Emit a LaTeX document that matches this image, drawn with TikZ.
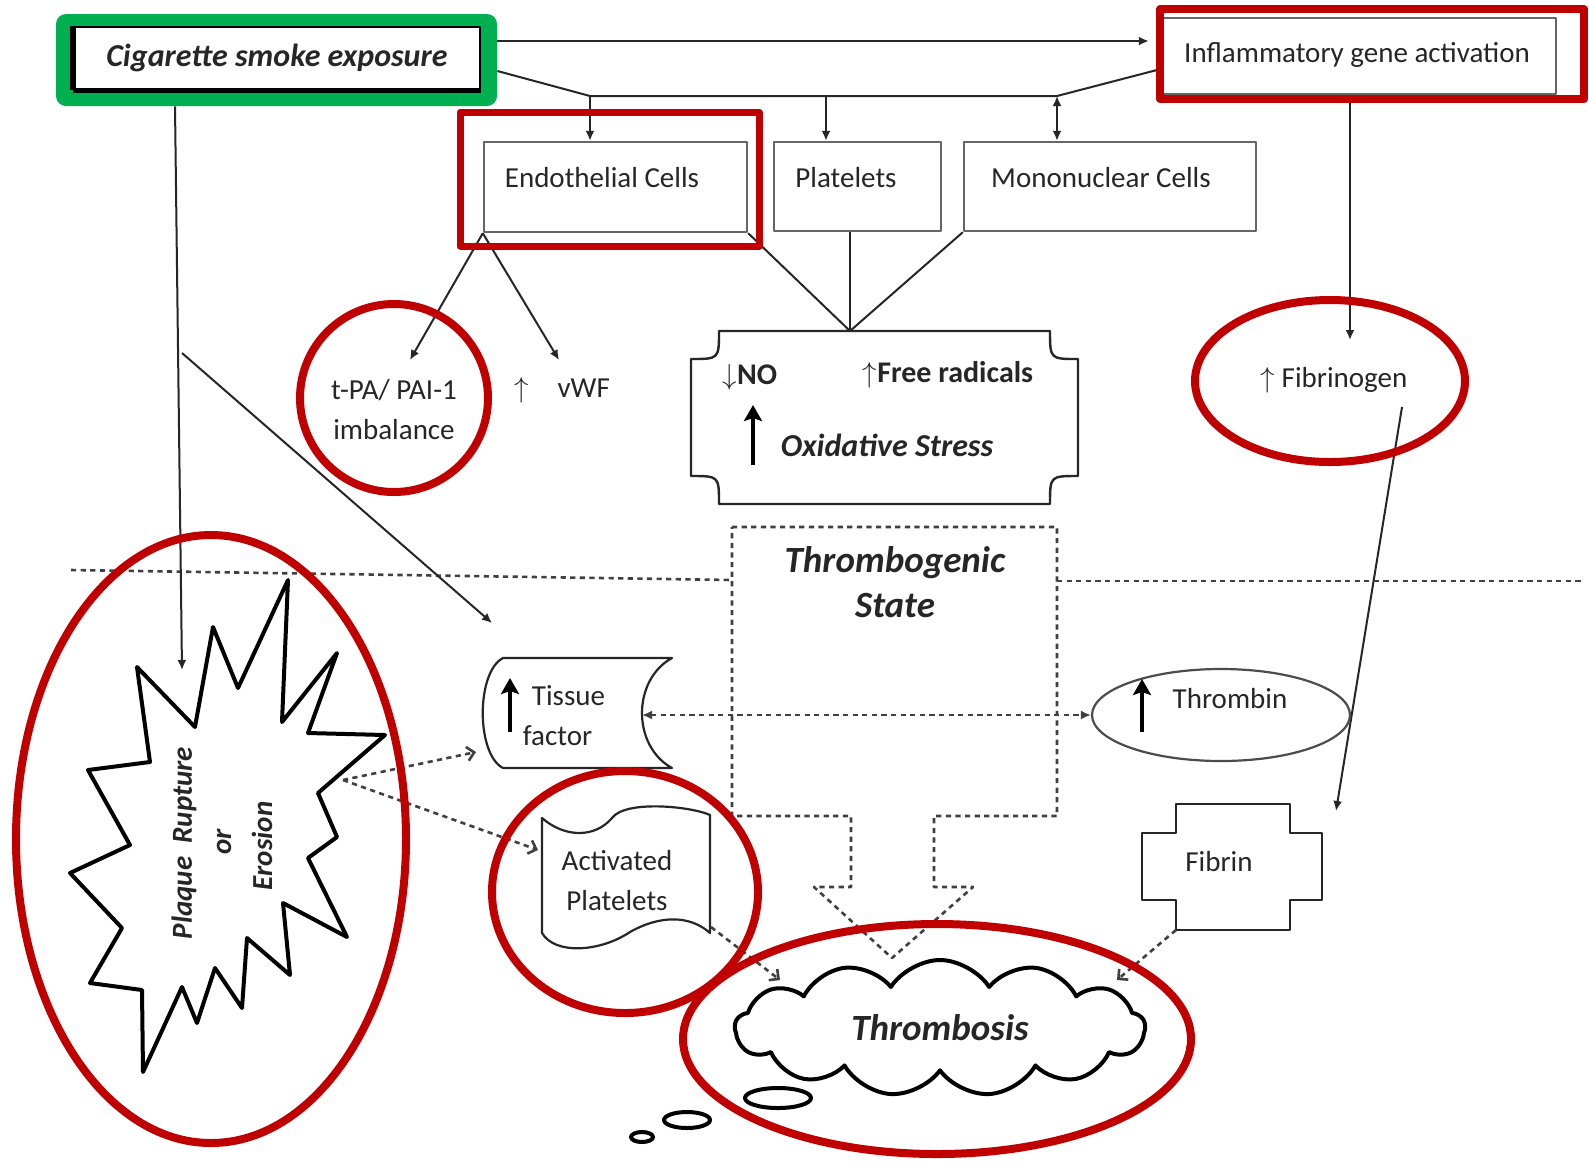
\documentclass[tikz,border=0pt]{standalone}
\usepackage{fontspec}
\setmainfont{Carlito}
\usetikzlibrary{arrows.meta,positioning,shapes.symbols,shapes.geometric}

\definecolor{markred}{RGB}{192,0,0}
\definecolor{markgreen}{RGB}{0,176,80}

\tikzset{
  txt/.style={font=\fontsize{14.5}{20}\selectfont, text=black!85, align=center, inner sep=0pt},
  boldtxt/.style={txt, font=\fontsize{15}{20}\selectfont\bfseries},
  headtxt/.style={txt, font=\fontsize{16}{22}\selectfont\bfseries\itshape},
  cellbox/.style={draw=black!60, line width=1.2pt, fill=white, inner sep=0pt},
  link/.style={draw=black!85, line width=1pt},
  linkhead/.style={link, -{Latex[length=5pt,width=4.5pt]}},
  bothhead/.style={{Latex[length=5pt,width=4.5pt]}-{Latex[length=5pt,width=4.5pt]}},
  dotline/.style={draw=black!75, line width=1.3pt, dash pattern=on 2.6pt off 2.2pt},
  dotarrow/.style={dotline, -{Straight Barb[length=3.5pt,width=7pt]}},
  markframe/.style={draw=markred, line width=4pt},
  fatarrow/.style={draw=black, line width=2.2pt, -{Stealth[length=8pt,width=9pt,inset=1.5pt]}}
}

\begin{document}
\begin{tikzpicture}[x=0.5pt, y=-0.5pt, line join=round]
  \useasboundingbox (0,0) rectangle (1589,1164);
  \fill[white] (0,0) rectangle (1589,1164);

  % exposure box, green frame round a black box
  \node[fill=markgreen, rounded corners=5pt, minimum width=220.5pt, minimum height=46pt, inner sep=0pt] (frame) at (276.5,60) {};
  \node[draw=black, line width=1.3pt, fill=white, minimum width=203pt, minimum height=31pt, headtxt] (smoke) at (277,58) {Cigarette smoke exposure};
  \draw[line width=3pt] (smoke.north west) -- (smoke.south west);
  \draw[line width=2.2pt] (smoke.south west) -- (smoke.south east);

  % cell boxes along the top
  \node[cellbox, minimum width=197pt, minimum height=38pt] (inflam) at (1359,56) {};
  \node[txt] (inflamtxt) at (1357,55) {Inflammatory gene activation};
  \node[cellbox, minimum width=131.5pt, minimum height=45pt] (endo) at (615.5,187) {};
  \node[txt] (endotxt) at (602,178) {Endothelial Cells};
  \node[cellbox, minimum width=83.5pt, minimum height=44.5pt] (plate) at (857.5,186.5) {};
  \node[txt] (platetxt) at (846,178) {Platelets};
  \node[cellbox, minimum width=146pt, minimum height=44.5pt] (mono) at (1110,186.5) {};
  \node[txt] (monotxt) at (1101,178) {Mononuclear Cells};

  % links from the exposure box
  \coordinate (rowA) at (0,41);
  \coordinate (rowB) at (0,71);
  \coordinate (busL) at (590,96);
  \coordinate (busP) at (826,96);
  \coordinate (busM) at (1057,96);
  \draw[linkhead, shorten >=6pt] (frame.east |- rowA) -- (inflam.west |- rowA);
  \draw[link] (frame.east |- rowB) -- (busL) -- (busM) -- ([yshift=-6.5pt]inflam.west);
  \draw[linkhead] (busL) -- (busL |- endo.north);
  \draw[linkhead] (busP) -- (busP |- plate.north);
  \draw[link, bothhead] (busM) -- (busM |- mono.north);

  % endothelial products
  \node[txt] (tpa) at (394,410) {t-PA/ PAI-1\\imbalance};
  \node[txt] (vwf) at (562,390) {$\uparrow$\quad vWF};
  \coordinate (tpatip) at (410,360);
  \coordinate (vwftip) at (559,360);
  \draw[linkhead] (endo.south west) -- (tpatip);
  \draw[linkhead] (endo.south west) -- (vwftip);

  % oxidative stress plaque
  \coordinate (apex) at (850,331);
  \draw[link] (endo.south east) -- (apex);
  \draw[link] (plate.south -| apex) -- (apex);
  \draw[link] (mono.south west) -- (apex);
  \draw[link, line width=1.2pt] (719,331) -- (1050,331) .. controls (1050,359) .. (1078,359)
    -- (1078,476) .. controls (1050,476) .. (1050,504) -- (719,504)
    .. controls (719,476) .. (691,476) -- (691,359) .. controls (719,359) .. (719,331) -- cycle;
  \node[boldtxt] (no) at (750,377) {$\downarrow$NO};
  \node[boldtxt] (radicals) at (948,375) {$\uparrow$Free radicals};
  \node[headtxt] (oxid) at (887,445) {Oxidative Stress};
  \draw[fatarrow] (753,465) -- (753,405);

  % fibrinogen branch
  \node[txt] (fibgen) at (1334,380) {$\uparrow$ Fibrinogen};
  \coordinate (fibgentip) at (1350,340);
  \coordinate (fibgenout) at (1402,407);
  \coordinate (fibrintip) at (1336,811);
  \draw[linkhead] (inflam.south -| fibgentip) -- (fibgentip);
  \draw[linkhead] (fibgenout) -- (fibrintip);

  % thrombogenic state, dashed box with its block arrow
  \draw[dotline] (71,570) -- (732,580);
  \draw[dotline] (1057,581) -- (1581,581);
  \draw[dotline] (732,527) -- (1057,527) -- (1057,816) -- (934,816) -- (934,887) -- (973,887)
    -- (892,958) -- (814,887) -- (851,887) -- (851,816) -- (732,816) -- cycle;
  \node[headtxt, font=\fontsize{18.5}{22.5}\selectfont\bfseries\itshape] (state) at (895,582) {Thrombogenic\\State};

  % plaque rupture burst
  \draw[line width=2pt, fill=white] (137,667) -- (195,727) -- (213,627) -- (238,688) -- (288,580)
    -- (282,722) -- (337,653) -- (308,733) -- (385,735) -- (318,793) -- (337,837) -- (308,858)
    -- (347,937) -- (283,903) -- (290,975) -- (247,938) -- (242,1008) -- (215,968) -- (197,1023)
    -- (182,987) -- (143,1072) -- (142,990) -- (90,983) -- (122,928) -- (70,873) -- (130,845)
    -- (88,770) -- (150,762) -- cycle;
  \node[headtxt, font=\fontsize{14.5}{18}\selectfont\bfseries\itshape, rotate=90] (plaque) at (184,843) {Plaque\ \ Rupture};
  \node[headtxt, font=\fontsize{14.5}{18}\selectfont\bfseries\itshape, rotate=90] (ortxt) at (224,842) {or};
  \node[headtxt, font=\fontsize{14.5}{18}\selectfont\bfseries\itshape, rotate=90] (erosion) at (262,846) {Erosion};
  \coordinate (burst) at (343,780);
  \coordinate (branch) at (182,353);
  \coordinate (rupturetip) at (182,670);
  \coordinate (tissuetip) at (492,623);
  \draw[linkhead] ([xshift=-50.75pt]frame.south) -- (rupturetip);
  \draw[linkhead] (branch) -- (tissuetip);

  % tissue factor
  \draw[link, line width=1.1pt] (503,658) -- (672,658) .. controls (632,680) and (632,746) .. (672,768)
    -- (503,768) .. controls (476,754) and (476,672) .. (503,658) -- cycle;
  \coordinate (tissueR) at (642,715);
  \node[txt, align=left] (tissue) at (564,716) {\hspace*{4.5pt}Tissue\\factor};
  \draw[fatarrow] (510,732) -- (510,678);

  % thrombin
  \node[draw=black!70, line width=1.1pt, ellipse, minimum width=129pt, minimum height=46pt] (thrombin) at (1221,715) {};
  \node[txt] (thrombintxt) at (1230,699) {Thrombin};
  \draw[fatarrow] (1142,732) -- (1142,679);
  \draw[dotline, bothhead] (tissueR) -- (thrombin.west);

  % activated platelets
  \draw[link, line width=1.1pt] (542,818) .. controls (565,838) and (595,838) .. (612,818)
    .. controls (625,800) and (690,806) .. (710,815) -- (710,933)
    .. controls (690,915) and (660,915) .. (630,932) .. controls (600,952) and (555,955) .. (542,933) -- cycle;
  \node[txt] (acttxt) at (617,881) {Activated\\Platelets};
  \coordinate (actin) at (538,850);
  \coordinate (actout) at (711,927);
  \coordinate (tissuein) at (476,752);
  \draw[dotarrow] (burst) -- (tissuein);
  \draw[dotarrow] (burst) -- (actin);

  % fibrin
  \draw[link, line width=1.1pt] (1176,804) -- (1290,804) -- (1290,833) -- (1322,833) -- (1322,900)
    -- (1290,900) -- (1290,930) -- (1176,930) -- (1176,900) -- (1142,900) -- (1142,833)
    -- (1176,833) -- cycle;
  \node[txt] (fibrintxt) at (1219,862) {Fibrin};
  \coordinate (fibrinout) at (1176,930);

  % thrombosis cloud and bubbles
  \node[cloud, draw=black, line width=2pt, cloud puffs=13, cloud puff arc=115, cloud ignores aspect,
    minimum width=205pt, minimum height=68pt, headtxt, font=\fontsize{18.5}{20}\selectfont\bfseries\itshape] (clot) at (940,1028) {Thrombosis};
  \draw[line width=2pt] (778,1098) ellipse [x radius=33, y radius=10];
  \draw[line width=2pt] (687,1120) ellipse [x radius=23, y radius=8];
  \draw[line width=2pt] (642,1137) ellipse [x radius=11, y radius=5];
  \coordinate (clotL) at (780,980);
  \coordinate (clotR) at (1117,980);
  \draw[dotarrow] (actout) -- (clotL);
  \draw[dotarrow] (fibrinout) -- (clotR);

  % red highlight marks
  \draw[markframe, line width=3.5pt] (460,112) rectangle (759,246);
  \draw[markframe] (1160,9) rectangle (1584,99);
  \draw[markframe] (394,398) ellipse [x radius=94, y radius=94];
  \draw[markframe] (1330,381) ellipse [x radius=135, y radius=81];
  \draw[markframe] (211,839) ellipse [x radius=195, y radius=304];
  \draw[markframe] (625,892) ellipse [x radius=133, y radius=121];
  \draw[markframe] (937,1039) ellipse [x radius=254, y radius=115];

\end{tikzpicture}
\end{document}
